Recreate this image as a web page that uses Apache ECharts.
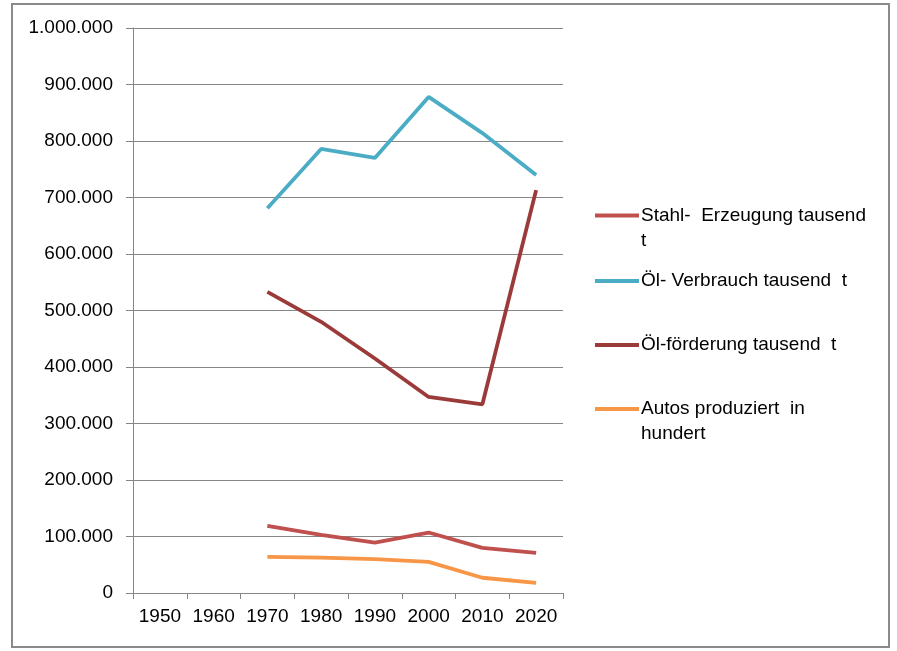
<!DOCTYPE html>
<html>
<head>
<meta charset="utf-8">
<script src="https://cdn.jsdelivr.net/npm/echarts@6/dist/echarts.min.js"></script>
<style>
html,body{margin:0;padding:0;background:#fff;}
#c{width:897px;height:651px;}
</style>
</head>
<body>
<div id="c"></div>
<script>
var years = ['1950','1960','1970','1980','1990','2000','2010','2020'];
var stahl = [null, null, 119000, 103000, 89000, 107000, 80000, 71000];
var oelVerbrauch = [null, null, 681000, 786000, 770000, 878000, 814000, 740000];
var oelFoerderung = [null, null, 533000, 480000, 415000, 347000, 334000, 713000];
var autos = [null, null, 64000, 62500, 60000, 55000, 27000, 18000];
var seriesNames = ['Stahl-  Erzeugung tausend t', 'Öl- Verbrauch tausend  t', 'Öl-förderung tausend  t', 'Autos produziert  in hundert'];
var legendLabels = ['Stahl-  Erzeugung tausend\nt', 'Öl- Verbrauch tausend  t', 'Öl-förderung tausend  t', 'Autos produziert  in\nhundert'];
var yTicks = {min: 0, max: 1000000, interval: 100000};

var colors = ['#C0504D', '#4BACC6', '#9B3B39', '#F79646'];
var FONT = 'Liberation Sans';
var LH = 25;

function fmt(v){
  return String(v).replace(/\B(?=(\d{3})+(?!\d))/g, '.');
}
function legendFmt(name){
  var i = seriesNames.indexOf(name);
  var s = i >= 0 ? legendLabels[i] : name;
  // a leading empty line keeps the first text line level with the icon
  return s.indexOf('\n') >= 0 ? '\n' + s : s;
}
var legendTops = [178, 268.5, 332.5, 371.5];
var legends = seriesNames.map(function(n, i){
  return {
    data: [n],
    left: 595,
    top: legendTops[i],
    orient: 'vertical',
    padding: 0,
    icon: 'rect',
    itemWidth: 44,
    itemHeight: 4,
    itemGap: 0,
    selectedMode: false,
    formatter: legendFmt,
    textStyle: {
      fontFamily: FONT, fontSize: 19, color: '#000', lineHeight: LH,
      padding: [0, 0, 0, -3]
    }
  };
});

var chart = echarts.init(document.getElementById('c'), null, {renderer: 'canvas'});
var allData = [stahl, oelVerbrauch, oelFoerderung, autos];
chart.setOption({
  animation: false,
  backgroundColor: '#fff',
  color: colors,
  graphic: [{
    type: 'rect',
    shape: {x: 12, y: 4, width: 877, height: 643},
    style: {fill: 'none', stroke: '#8a8a8a', lineWidth: 2},
    silent: true,
    z: -1
  }],
  legend: legends,
  grid: {left: 133, right: 334, top: 28, bottom: 58, containLabel: false},
  xAxis: {
    type: 'category',
    data: years,
    boundaryGap: true,
    axisLine: {show: true, lineStyle: {color: '#868686', width: 1}},
    axisTick: {show: true, length: 6, interval: 0, alignWithLabel: false, lineStyle: {color: '#868686'}},
    axisLabel: {fontFamily: FONT, fontSize: 19, color: '#000', margin: 14, interval: 0},
    splitLine: {show: false}
  },
  yAxis: {
    type: 'value',
    min: yTicks.min, max: yTicks.max, interval: yTicks.interval,
    axisLine: {show: true, lineStyle: {color: '#868686', width: 1}},
    axisTick: {show: true, length: 7, lineStyle: {color: '#868686'}},
    axisLabel: {fontFamily: FONT, fontSize: 19, color: '#000', margin: 20, formatter: fmt},
    splitLine: {show: true, lineStyle: {color: '#868686', width: 1}}
  },
  series: seriesNames.map(function(n, i){
    return {
      name: n,
      type: 'line',
      data: allData[i],
      symbol: 'none',
      connectNulls: false,
      lineStyle: {width: 3.8, color: colors[i]},
      itemStyle: {color: colors[i]}
    };
  })
});
</script>
</body>
</html>
